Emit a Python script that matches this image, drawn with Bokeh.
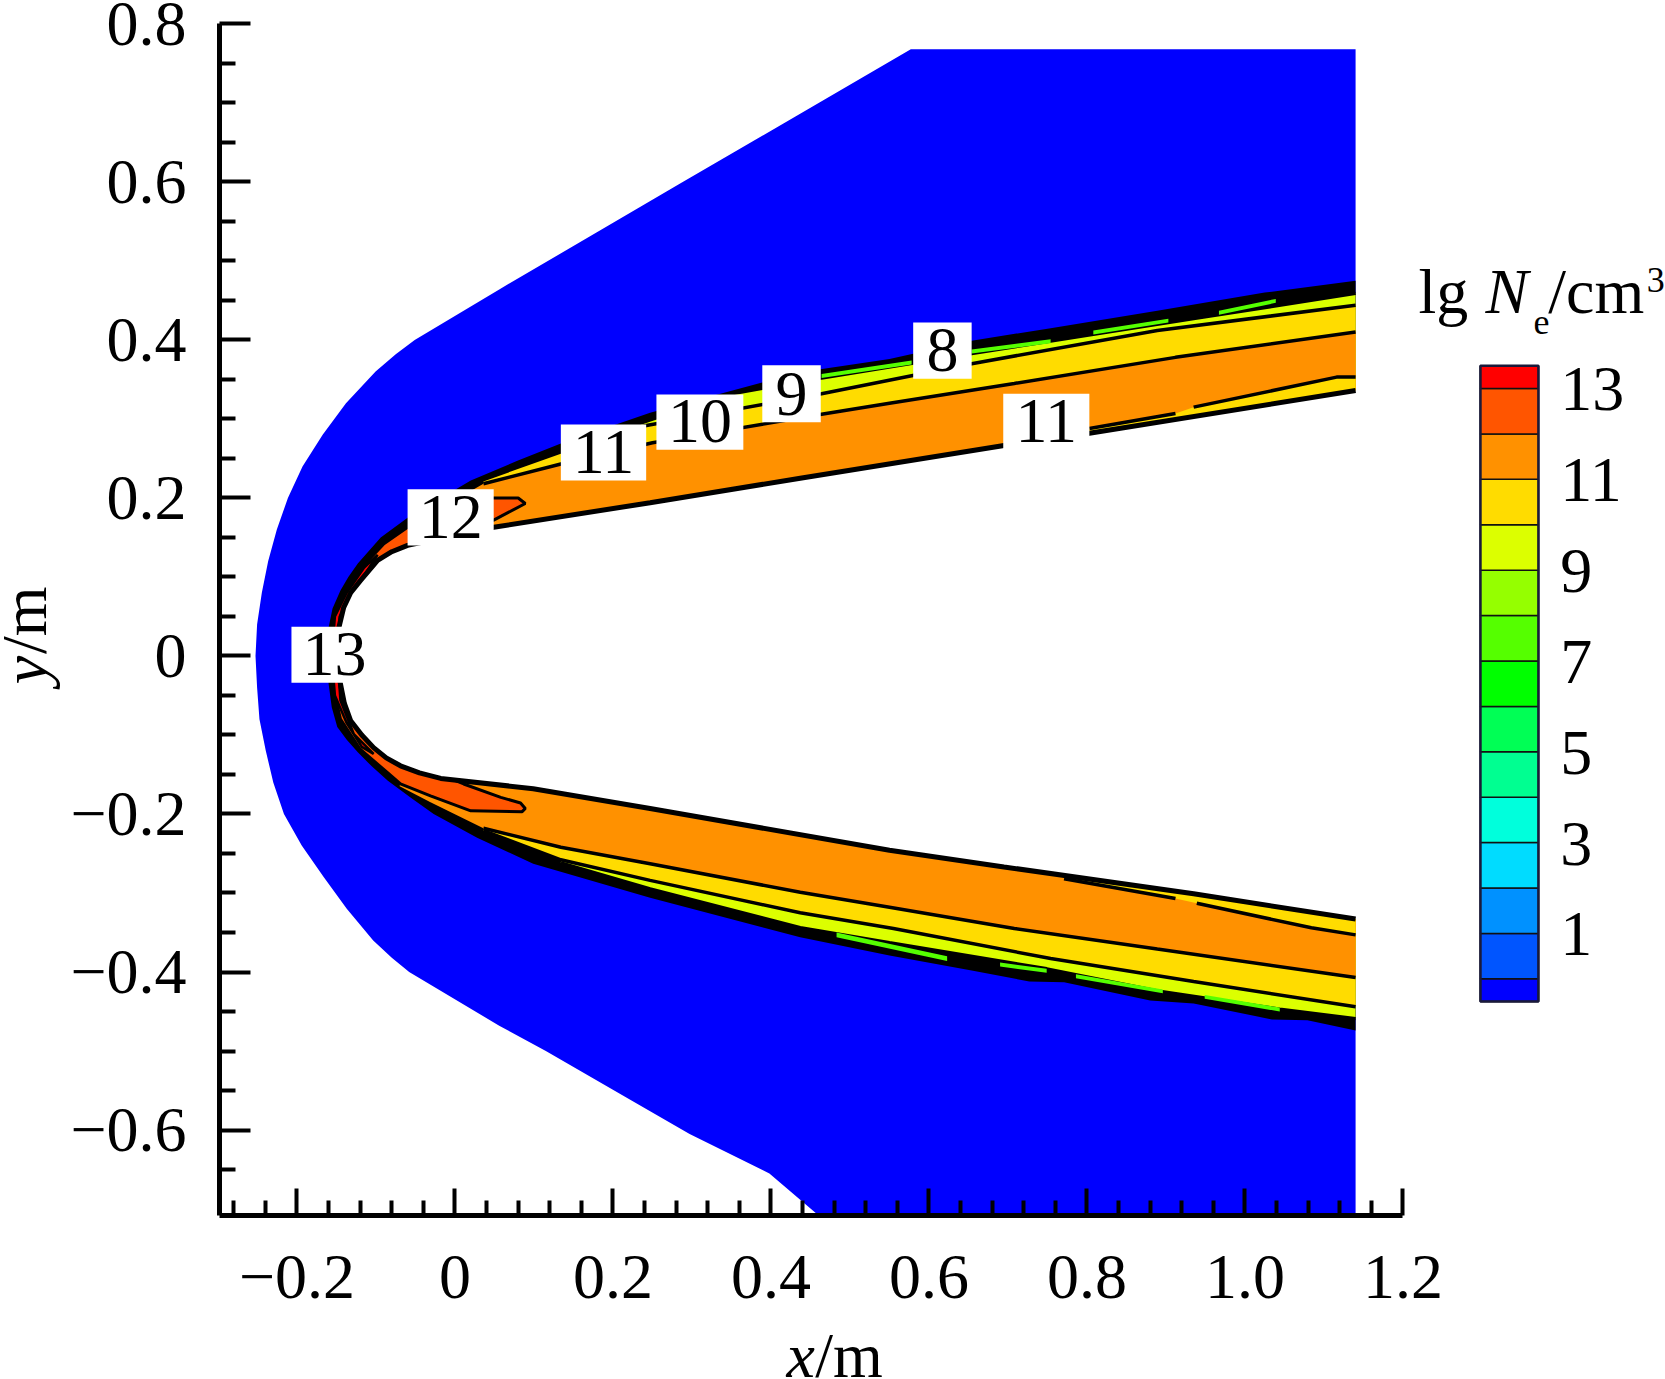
from bokeh.plotting import figure
from bokeh.embed import file_html
from bokeh.resources import INLINE
from bokeh.models import Range1d, FixedTicker, Label
from bokeh.core.properties import value

SERIF = "Liberation Serif"

# ---------- axis ticks ----------
x_major = [-0.2, 0, 0.2, 0.4, 0.6, 0.8, 1.0, 1.2]
x_labels = ["\u22120.2", "0", "0.2", "0.4", "0.6", "0.8", "1.0", "1.2"]
x_minor = [-0.28, -0.24, -0.16, -0.12, -0.08, -0.04, 0.04, 0.08, 0.12, 0.16, 0.24, 0.28, 0.32, 0.36,
           0.44, 0.48, 0.52, 0.56, 0.64, 0.68, 0.72, 0.76, 0.84, 0.88, 0.92, 0.96, 1.04, 1.08, 1.12, 1.16]
y_major = [-0.6, -0.4, -0.2, 0, 0.2, 0.4, 0.6, 0.8]
y_labels = ["\u22120.6", "\u22120.4", "\u22120.2", "0", "0.2", "0.4", "0.6", "0.8"]
y_minor = [-0.65, -0.55, -0.50, -0.45, -0.35, -0.30, -0.25, -0.15, -0.10, -0.05, 0.05, 0.10, 0.15,
           0.25, 0.30, 0.35, 0.45, 0.50, 0.55, 0.65, 0.70, 0.75]

# ---------- colour levels ----------
level_lo = [-0.5, 0, 1, 2, 3, 4, 5, 6, 7, 8, 9, 10, 11, 12, 13]
level_hi = [0, 1, 2, 3, 4, 5, 6, 7, 8, 9, 10, 11, 12, 13, 13.5]
level_colors = ["#0000ff", "#0055ff", "#0091ff", "#00dcff", "#00ffdc", "#00ff91", "#00ff55", "#00ff00",
                "#55ff00", "#95ff00", "#dcff00", "#ffdc00", "#ff9100", "#ff5500", "#ff0000"]
cbar_ticks = [1, 3, 5, 7, 9, 11, 13]

# ---------- shock boundary (edge of the blue field) ----------
shock_x = [1.14, 0.577, 0.285, 0.056, -0.051, -0.075, -0.1005, -0.138, -0.1675, -0.193, -0.2115, -0.2255, -0.2365, -0.2445, -0.2505,
           -0.2525, -0.2505, -0.2475, -0.2395, -0.23, -0.2165, -0.194, -0.166, -0.137, -0.1035, -0.08, -0.058,
           0.056, 0.115, 0.224, 0.297, 0.398, 0.46, 1.14]
shock_y = [0.768, 0.768, 0.598, 0.464, 0.400, 0.382, 0.36, 0.32, 0.28, 0.24, 0.20, 0.16, 0.12, 0.08, 0.04,
           0, -0.04, -0.08, -0.12, -0.16, -0.20, -0.24, -0.28, -0.32, -0.36, -0.382, -0.40,
           -0.468, -0.500, -0.563, -0.605, -0.655, -0.708, -0.708]

# ---------- outer edge of the plasma layer ----------
edge_up_x = [1.14, 1.025, 0.889, 0.754, 0.654, 0.55, 0.437, 0.247, 0.134, 0.079, 0.02, -0.06, -0.094, -0.123, -0.135, -0.145, -0.155, -0.160]
edge_up_y = [0.475, 0.460, 0.437, 0.415, 0.399, 0.376, 0.359, 0.308, 0.269, 0.247, 0.222, 0.175, 0.15, 0.117, 0.10, 0.083, 0.06, 0.036]
edge_lo_x = [-0.160, -0.156, -0.149, -0.137, -0.123, -0.105, -0.085, -0.055, -0.027, 0.028, 0.099, 0.247, 0.437, 0.55, 0.654, 0.727, 0.771, 0.88, 0.935, 1.034, 1.079, 1.14]
edge_lo_y = [-0.035, -0.065, -0.09, -0.106, -0.122, -0.14, -0.158, -0.18, -0.2, -0.23, -0.263, -0.306, -0.356, -0.379, -0.398, -0.412, -0.413, -0.436, -0.44, -0.46, -0.461, -0.474]

# ---------- vehicle surface ----------
body_up_x = [1.14, 0.803, 0.693, 0.437, 0.247, 0.049, -0.060, -0.08, -0.098, -0.120, -0.132, -0.141, -0.147, -0.149, -0.150]
body_up_y = [0.336, 0.282, 0.266, 0.225, 0.194, 0.163, 0.140, 0.132, 0.121, 0.095, 0.08, 0.061, 0.036, 0.02, 0]
body_lo_x = [-0.150, -0.149, -0.145, -0.14, -0.132, -0.118, -0.103, -0.087, -0.069, -0.045, -0.018, 0.099, 0.247, 0.55, 0.695, 0.935, 1.14]
body_lo_y = [0, -0.02, -0.035, -0.06, -0.082, -0.1, -0.116, -0.129, -0.139, -0.148, -0.155, -0.168, -0.193, -0.246, -0.267, -0.301, -0.333]
body_end_x = [1.146, 1.146]
body_end_y = [-0.333, 0.336]

# ---------- contour lines ----------
l9_up_x = [1.14, 0.935, 0.800, 0.654, 0.464, 0.35, 0.25, 0.2]
l9_up_y = [0.459, 0.427, 0.406, 0.383, 0.352, 0.332, 0.30, 0.283]
l9_lo_x = [0.134, 0.247, 0.437, 0.55, 0.749, 0.889, 1.044, 1.14]
l9_lo_y = [-0.262, -0.295, -0.344, -0.363, -0.396, -0.424, -0.447, -0.459]
l10_up_x = [1.14, 0.889, 0.654, 0.464, 0.244, 0.2]
l10_up_y = [0.444, 0.412, 0.370, 0.332, 0.292, 0.283]
l10_top_x = [0.134, 0.036]
l10_top_y = [0.256, 0.221]
l10_lo_x = [0.036, 0.134, 0.247, 0.437, 0.555, 0.754, 0.935, 1.14]
l10_lo_y = [-0.221, -0.258, -0.284, -0.325, -0.345, -0.383, -0.412, -0.444]
l11_up_x = [1.14, 0.912, 0.708, 0.55, 0.464, 0.25, 0.134, 0.036]
l11_up_y = [0.410, 0.378, 0.345, 0.320, 0.306, 0.270, 0.243, 0.218]
l11_lo_x = [0.036, 0.134, 0.247, 0.437, 0.55, 0.708, 0.889, 1.14]
l11_lo_y = [-0.218, -0.242, -0.263, -0.299, -0.318, -0.345, -0.371, -0.407]

# yellow strips along the rear surface
strip_up_x = [1.14, 1.116, 0.935, 0.912, 0.803, 0.803, 1.14]
strip_up_y = [0.353, 0.353, 0.315, 0.307, 0.288, 0.282, 0.336]
strip_lo_x = [0.771, 0.912, 0.939, 1.084, 1.14, 1.14, 0.935, 0.777]
strip_lo_y = [-0.282, -0.307, -0.313, -0.344, -0.353, -0.333, -0.301, -0.278]
strip_lines_x = [[0.803, 0.912], [0.935, 1.116, 1.14], [0.771, 0.912], [0.939, 1.084, 1.14]]
strip_lines_y = [[0.288, 0.307], [0.315, 0.353, 0.353], [-0.282, -0.307], [-0.313, -0.344, -0.353]]

# level 12 region and level 13 sliver around the nose
l12_x = [-0.156, -0.155, -0.14, -0.118, -0.09, -0.06, -0.02, 0.02, 0.08, 0.089, 0.049, 0.03, -0.06, -0.13, -0.149,
         -0.14, -0.1, -0.018, 0.011, 0.058, 0.083, 0.089, 0.085, 0.02, -0.031, -0.069, -0.085, -0.12, -0.145, -0.155]
l12_y = [0, 0.036, 0.08, 0.112, 0.142, 0.163, 0.19, 0.2, 0.2, 0.193, 0.172, 0.167, 0.135, 0.08, 0,
         -0.06, -0.1, -0.15, -0.162, -0.179, -0.186, -0.193, -0.197, -0.196, -0.177, -0.162, -0.148, -0.118, -0.08, -0.036]
l13_x = [-0.156, -0.152, -0.137, -0.115, -0.098, -0.113, -0.130, -0.146, -0.149, -0.145, -0.128, -0.103, -0.118, -0.137, -0.152]
l13_y = [0, 0.05, 0.08, 0.112, 0.128, 0.105, 0.08, 0.05, 0, -0.056, -0.099, -0.124, -0.115, -0.085, -0.05]

# level 8-9 slivers
sliver_x = [[0.464, 0.578, 0.578, 0.464], [0.654, 0.754, 0.754, 0.654], [0.808, 0.903, 0.903, 0.808], [0.967, 1.039, 1.039, 0.967],
            [0.483, 0.623, 0.623, 0.483], [0.69, 0.749, 0.749, 0.69], [0.786, 0.896, 0.896, 0.786], [0.949, 1.044, 1.044, 0.949]]
sliver_y = [[0.357, 0.374, 0.369, 0.352], [0.388, 0.401, 0.396, 0.383], [0.412, 0.427, 0.422, 0.407], [0.437, 0.452, 0.447, 0.432],
            [-0.350, -0.380, -0.386, -0.356], [-0.388, -0.396, -0.401, -0.393], [-0.403, -0.422, -0.427, -0.408], [-0.429, -0.445, -0.450, -0.434]]

# ---------- contour labels ----------
tag_text = ["13", "12", "11", "10", "9", "8", "11"]
tag_left = [-0.207, -0.060, 0.134, 0.255, 0.389, 0.580, 0.694]
tag_right = [-0.098, 0.049, 0.242, 0.365, 0.463, 0.654, 0.803]
tag_top = [0.037, 0.211, 0.293, 0.331, 0.368, 0.422, 0.332]
tag_bottom = [-0.034, 0.140, 0.222, 0.261, 0.296, 0.351, 0.261]

p = figure(width=1665, height=1379, output_backend="svg", toolbar_location=None,
           x_range=Range1d(-0.5753, 1.5323), y_range=Range1d(-0.9158, 0.8297),
           min_border_left=0, min_border_right=0, min_border_top=0, min_border_bottom=0,
           background_fill_color="white", border_fill_color="white", outline_line_color=None)
p.grid.visible = False
p.extra_y_ranges = {"cb": Range1d(-8.824, 21.546)}

for ax, maj, lab, mnr, bnds, tin, mtin, loc in (
        (p.xaxis[0], x_major, x_labels, x_minor, (-0.298, 1.2), 27, 15, -0.7082),
        (p.yaxis[0], y_major, y_labels, y_minor, (-0.7082, 0.8), 31, 16, -0.298)):
    ax.fixed_location = loc
    ax.ticker = FixedTicker(ticks=maj, minor_ticks=mnr)
    ax.major_label_overrides = dict(zip(maj, lab))
    ax.bounds = bnds
    ax.axis_line_width = 5
    ax.axis_line_color = "black"
    ax.major_tick_in = tin
    ax.major_tick_out = 0
    ax.minor_tick_in = mtin
    ax.minor_tick_out = 0
    ax.major_tick_line_width = 4
    ax.minor_tick_line_width = 4
    ax.major_tick_line_color = "black"
    ax.minor_tick_line_color = "black"
    ax.major_label_text_font = SERIF
    ax.major_label_text_font_size = "64px"
    ax.major_label_text_color = "black"
p.xaxis[0].major_label_standoff = 41
p.yaxis[0].major_label_standoff = 33

# ---------- field ----------
p.patch(shock_x, shock_y, fill_color="#0000ff", line_color=None)
p.patch(edge_up_x + edge_lo_x, edge_up_y + edge_lo_y, fill_color="black", line_color=None)
p.patch(l9_up_x + l9_lo_x, l9_up_y + l9_lo_y, fill_color="#dcff00", line_color=None)
p.patch(l10_up_x + l10_top_x + l10_lo_x, l10_up_y + l10_top_y + l10_lo_y, fill_color="#ffdc00", line_color=None)
p.patch(l11_up_x + [-0.03, -0.07, -0.031] + l11_lo_x, l11_up_y + [0.18, -0.165, -0.185] + l11_lo_y,
        fill_color="#ff9100", line_color=None)
p.patch(strip_up_x, strip_up_y, fill_color="#ffdc00", line_color=None)
p.patch(strip_lo_x, strip_lo_y, fill_color="#ffdc00", line_color=None)
p.patch(l12_x + l12_x[:1], l12_y + l12_y[:1], fill_color="#ff5500", line_color="black", line_width=3)
p.patch(l13_x + l13_x[:1], l13_y + l13_y[:1], fill_color="#ff0000", line_color="black", line_width=2.5)
p.multi_line([l9_up_x, l9_lo_x, l10_up_x, l10_lo_x, l11_up_x, l11_lo_x] + strip_lines_x,
             [l9_up_y, l9_lo_y, l10_up_y, l10_lo_y, l11_up_y, l11_lo_y] + strip_lines_y,
             line_color="black", line_width=3.5)
p.patches(sliver_x, sliver_y, fill_color="#55ff00", line_color=None)
p.patch(body_end_x[1:] + body_up_x + body_lo_x + body_end_x[:1], body_end_y[1:] + body_up_y + body_lo_y + body_end_y[:1],
        fill_color="white", line_color=None)
p.multi_line([body_up_x, body_lo_x], [body_up_y, body_lo_y], line_color="black", line_width=5)

# ---------- contour labels ----------
p.quad(left=tag_left, right=tag_right, top=tag_top, bottom=tag_bottom, fill_color="white", line_color=None)
tag_x = [(a + b) / 2 for a, b in zip(tag_left, tag_right)]
tag_y = [b + 0.036 for b in tag_bottom]
p.text(x=tag_x, y=tag_y, text=tag_text, text_font=value(SERIF), text_font_size="64px",
       text_align="center", text_baseline="alphabetic", text_color="black")

# ---------- colour bar ----------
n = len(level_lo)
p.quad(left=[1.298] * n, right=[1.3715] * n, bottom=level_lo, top=level_hi, fill_color=level_colors,
       line_color="#111111", line_width=1.5, y_range_name="cb")
p.quad(left=[1.298], right=[1.3715], bottom=[-0.5], top=[13.5], fill_color=None,
       line_color="#1a1a3a", line_width=2.5, y_range_name="cb")
p.text(x=[1.399] * len(cbar_ticks), y=[t - 0.02 for t in cbar_ticks], text=[str(t) for t in cbar_ticks],
       text_font=value(SERIF), text_font_size="64px", text_align="left", text_baseline="alphabetic",
       text_color="black", y_range_name="cb")


def put(text, x, y, style="normal", size="64px", angle=0):
    p.add_layout(Label(x=x, y=y, text=text, text_font=SERIF, text_font_style=style, text_font_size=size,
                       text_color="black", text_align="left", text_baseline="alphabetic", angle=angle))


# colour bar title
put("lg", 1.2197, 0.4614)
put("N", 1.3044, 0.4614, "italic")
put("e", 1.3652, 0.4222, size="36px")
put("/cm", 1.384, 0.4614)
put("3", 1.5085, 0.4753, size="36px")

# axis titles
put("x", 0.4196, -0.8848, "italic")
put("/m", 0.456, -0.8848)
put("y", -0.545, -0.0357, "italic", angle=1.5708)
put("/m", -0.545, 0.0024, angle=1.5708)

open("out.html", "w").write(file_html(p, INLINE))
